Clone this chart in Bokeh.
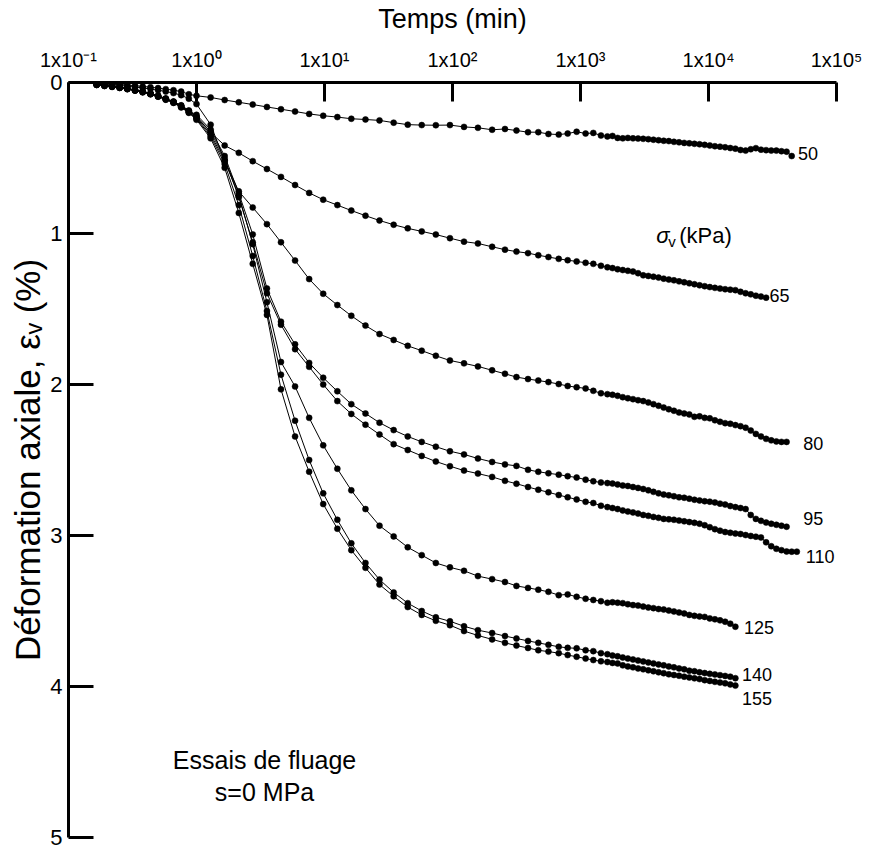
from bokeh.plotting import figure
from bokeh.models import Range1d, FixedTicker, CustomJSTickFormatter, Label, ColumnDataSource
from bokeh.embed import file_html
from bokeh.resources import INLINE
from bokeh.core.properties import value

# measurement times (min), shared logging schedule
T = [0.166, 0.191, 0.219, 0.251, 0.288, 0.331, 0.380, 0.437, 0.501, 0.575, 0.661, 0.759, 0.871,
     1.0, 1.29, 1.66, 2.14, 2.75, 3.55, 4.57, 5.89, 7.59, 9.77, 12.6, 16.2, 20.9, 26.9, 34.7,
     44.7, 57.5, 74.1, 95.5, 123, 158, 204, 257, 316, 389, 468, 562, 676, 794, 933, 1096, 1259, 1445,
     1622, 1778, 1950, 2138, 2344, 2570, 2818, 3090, 3388, 3715, 4074, 4467, 4898, 5370, 5888,
     6457, 7079, 7762, 8511, 9333, 10233, 11220, 12303, 13490, 14791, 16218, 17783, 19498, 21380,
     23442, 25704, 28184, 30903, 33884, 37154, 40738, 44668, 48978]

# axial strain (%) for each vertical stress (kPa)
eps_50 = [0.004, 0.006, 0.010, 0.013, 0.017, 0.021, 0.026, 0.031, 0.037, 0.044, 0.051, 0.060, 0.078,
          0.088, 0.099, 0.116, 0.131, 0.146, 0.162, 0.177, 0.192, 0.208, 0.220, 0.229, 0.240, 0.245,
          0.251, 0.266, 0.279, 0.282, 0.283, 0.282, 0.294, 0.300, 0.313, 0.308, 0.318, 0.329, 0.329,
          0.341, 0.345, 0.338, 0.326, 0.338, 0.334, 0.351,
          0.357, 0.354, 0.367, 0.370, 0.367, 0.370, 0.371, 0.373, 0.375, 0.379, 0.382, 0.386, 0.388,
          0.393, 0.396, 0.400, 0.403, 0.406, 0.409, 0.413, 0.417, 0.422, 0.425, 0.429, 0.434, 0.438,
          0.447, 0.451, 0.442, 0.435, 0.445, 0.448, 0.451, 0.451, 0.455, 0.458, 0.487]
eps_65 = [0.012, 0.017, 0.023, 0.031, 0.039, 0.049, 0.060, 0.073, 0.088, 0.107, 0.127, 0.151, 0.185,
          0.227, 0.331, 0.417, 0.466, 0.521, 0.573, 0.625, 0.679, 0.731, 0.776, 0.812, 0.848, 0.882,
          0.914, 0.942, 0.966, 0.986, 1.007, 1.031, 1.054, 1.066, 1.088, 1.107, 1.120, 1.130, 1.144,
          1.156, 1.168, 1.177, 1.185, 1.194, 1.201, 1.214,
          1.224, 1.229, 1.237, 1.242, 1.247, 1.252, 1.263, 1.277, 1.281, 1.286, 1.292, 1.299, 1.305,
          1.310, 1.317, 1.323, 1.330, 1.336, 1.343, 1.349, 1.355, 1.360, 1.365, 1.369, 1.372, 1.375,
          1.386, 1.396, 1.403, 1.412, 1.418, 1.425]
eps_80 = [0.006, 0.010, 0.014, 0.019, 0.025, 0.030, 0.036, 0.043, 0.051, 0.060, 0.070, 0.084, 0.107,
          0.143, 0.279, 0.519, 0.721, 0.828, 0.938, 1.058, 1.179, 1.302, 1.399, 1.474, 1.545, 1.610,
          1.666, 1.705, 1.744, 1.776, 1.810, 1.841, 1.860, 1.880, 1.906, 1.929, 1.951, 1.964, 1.974,
          1.984, 1.997, 2.010, 2.018, 2.026, 2.042, 2.058,
          2.064, 2.068, 2.075, 2.084, 2.091, 2.097, 2.104, 2.110, 2.119, 2.130, 2.141, 2.153, 2.164,
          2.174, 2.185, 2.192, 2.198, 2.214, 2.211, 2.221, 2.224, 2.237, 2.247, 2.256, 2.260, 2.269,
          2.276, 2.286, 2.305, 2.327, 2.344, 2.360, 2.370, 2.377, 2.380, 2.380]
eps_95 = [0.013, 0.019, 0.025, 0.032, 0.040, 0.050, 0.060, 0.072, 0.088, 0.106, 0.126, 0.154, 0.188,
          0.214, 0.312, 0.487, 0.734, 1.006, 1.364, 1.584, 1.734, 1.857, 1.955, 2.045, 2.130, 2.192,
          2.253, 2.302, 2.344, 2.380, 2.412, 2.442, 2.463, 2.490, 2.513, 2.529, 2.539, 2.565, 2.578,
          2.588, 2.597, 2.607, 2.616, 2.630, 2.641, 2.649,
          2.653, 2.656, 2.662, 2.669, 2.672, 2.679, 2.685, 2.692, 2.701, 2.711, 2.721, 2.729, 2.734,
          2.740, 2.747, 2.750, 2.756, 2.763, 2.768, 2.773, 2.776, 2.781, 2.789, 2.795, 2.805, 2.812,
          2.818, 2.825, 2.864, 2.890, 2.903, 2.914, 2.922, 2.929, 2.935, 2.942]
eps_110 = [0.014, 0.020, 0.026, 0.033, 0.041, 0.051, 0.061, 0.074, 0.090, 0.108, 0.129, 0.157, 0.192,
           0.227, 0.325, 0.506, 0.760, 1.058, 1.396, 1.604, 1.766, 1.883, 2.000, 2.110, 2.195, 2.266,
           2.331, 2.395, 2.434, 2.473, 2.510, 2.541, 2.570, 2.590, 2.612, 2.638, 2.657, 2.679, 2.697,
           2.714, 2.732, 2.747, 2.761, 2.777, 2.785, 2.803,
           2.812, 2.818, 2.825, 2.834, 2.841, 2.847, 2.855, 2.864, 2.870, 2.877, 2.883, 2.890, 2.893,
           2.896, 2.901, 2.906, 2.911, 2.916, 2.922, 2.932, 2.945, 2.958, 2.968, 2.977, 2.982, 2.987,
           2.990, 2.997, 3.003, 3.008, 3.013, 3.045, 3.071, 3.088, 3.097, 3.106, 3.107, 3.107]
eps_125 = [0.015, 0.021, 0.027, 0.034, 0.042, 0.052, 0.062, 0.075, 0.091, 0.110, 0.130, 0.159, 0.195,
           0.234, 0.344, 0.519, 0.747, 1.071, 1.455, 1.851, 2.013, 2.221, 2.403, 2.558, 2.701, 2.825,
           2.935, 3.006, 3.078, 3.130, 3.182, 3.211, 3.234, 3.269, 3.289, 3.308, 3.334, 3.347, 3.359,
           3.373, 3.395, 3.390, 3.406, 3.419, 3.427, 3.435,
           3.445, 3.442, 3.445, 3.448, 3.455, 3.461, 3.464, 3.471, 3.477, 3.481, 3.487, 3.490, 3.497,
           3.503, 3.510, 3.516, 3.526, 3.532, 3.536, 3.539, 3.549, 3.555, 3.562, 3.571, 3.584, 3.604]
eps_140 = [0.016, 0.022, 0.028, 0.035, 0.043, 0.053, 0.064, 0.077, 0.093, 0.112, 0.133, 0.162, 0.198,
           0.240, 0.357, 0.539, 0.812, 1.149, 1.513, 1.935, 2.240, 2.500, 2.721, 2.896, 3.052, 3.182,
           3.292, 3.377, 3.448, 3.500, 3.542, 3.568, 3.601, 3.627, 3.646, 3.666, 3.682, 3.698, 3.711,
           3.724, 3.737, 3.744, 3.747, 3.760, 3.766, 3.779,
           3.786, 3.795, 3.800, 3.808, 3.815, 3.821, 3.828, 3.834, 3.841, 3.847, 3.854, 3.860, 3.867,
           3.873, 3.880, 3.886, 3.895, 3.899, 3.906, 3.911, 3.916, 3.920, 3.925, 3.930, 3.935, 3.945]
eps_155 = [0.016, 0.023, 0.029, 0.036, 0.044, 0.054, 0.065, 0.078, 0.094, 0.114, 0.135, 0.165, 0.201,
           0.247, 0.370, 0.565, 0.864, 1.201, 1.539, 2.032, 2.344, 2.578, 2.792, 2.955, 3.097, 3.214,
           3.325, 3.403, 3.474, 3.526, 3.565, 3.594, 3.633, 3.662, 3.688, 3.711, 3.729, 3.745, 3.760,
           3.769, 3.779, 3.792, 3.803, 3.815, 3.825, 3.833,
           3.838, 3.844, 3.847, 3.860, 3.867, 3.873, 3.880, 3.886, 3.893, 3.899, 3.906, 3.912, 3.919,
           3.924, 3.929, 3.935, 3.940, 3.946, 3.951, 3.958, 3.963, 3.969, 3.974, 3.979, 3.986, 3.994]

series = [eps_50, eps_65, eps_80, eps_95, eps_110, eps_125, eps_140, eps_155]
stress_labels = ["50", "65", "80", "95", "110", "125", "140", "155"]

x_ticks = [0.1, 1, 10, 100, 1000, 10000, 100000]
y_ticks = [0, 1, 2, 3, 4, 5]

# label anchor points (time, strain) for the stress annotations
label_pos = {"50": (50000, 0.47), "65": (30000, 1.41), "80": (55000, 2.39), "95": (55000, 2.89),
             "110": (57500, 3.14), "125": (18900, 3.61), "140": (18300, 3.92), "155": (18300, 4.08)}

FONT = "Liberation Sans"

p = figure(width=862, height=849, x_axis_type="log", x_axis_location="above",
           x_range=Range1d(0.1, 100000), y_range=Range1d(5, 0),
           output_backend="svg", toolbar_location=None,
           min_border_left=68, min_border_top=77, min_border_right=26, min_border_bottom=12)
p.outline_line_color = None
p.xgrid.visible = False
p.ygrid.visible = False
p.background_fill_color = "white"
p.border_fill_color = "white"

xa = p.xaxis[0]
xa.ticker = FixedTicker(ticks=x_ticks, minor_ticks=[])
xa.formatter = CustomJSTickFormatter(code="""
const e = Math.round(Math.log10(tick));
const sup = {'-':'\u207b','0':'\u2070','1':'\u00b9','2':'\u00b2','3':'\u00b3','4':'\u2074','5':'\u2075'};
return '1x10' + String(e).split('').map(c => sup[c]).join('');
""")
xa.axis_label = "Temps (min)"

ya = p.yaxis[0]
ya.ticker = FixedTicker(ticks=y_ticks, minor_ticks=[])
ya.axis_label = "Déformation axiale, \u03b5\u1d65 (%)"

for ax in (xa, ya):
    ax.axis_line_width = 3
    ax.axis_line_color = "black"
    ax.major_tick_line_width = 3
    ax.major_tick_line_color = "black"
    ax.major_tick_out = 0
    ax.minor_tick_line_color = None
    ax.major_label_text_font = FONT
    ax.major_label_text_color = "black"
    ax.axis_label_text_font = FONT
    ax.axis_label_text_font_style = "normal"
    ax.axis_label_text_color = "black"

xa.major_tick_in = 19
xa.major_label_standoff = 12
xa.major_label_text_font_size = "20px"
xa.axis_label_text_font_size = "27px"
xa.axis_label_standoff = 12
ya.major_tick_in = 25
ya.major_label_standoff = 6
ya.major_label_text_font_size = "22px"
ya.axis_label_text_font_size = "35px"
ya.axis_label_standoff = 0

for eps in series:
    t = T[:len(eps)]
    p.line(t, eps, line_color="black", line_width=1)
    p.scatter(t, eps, size=6, fill_color="black", line_color="black", line_width=0.5)

src = ColumnDataSource(dict(
    x=[label_pos[s][0] for s in stress_labels],
    y=[label_pos[s][1] for s in stress_labels],
    text=stress_labels))
p.text(x="x", y="y", text="text", source=src, text_font=value(FONT), text_font_size="18px",
       text_align="left", text_baseline="middle", text_color="black")

p.add_layout(Label(x=3900, y=1.01, text="\u03c3", text_font=FONT, text_font_size="22px",
                   text_font_style="italic", text_baseline="middle", text_align="left",
                   text_color="black"))
p.add_layout(Label(x=3900, y=1.01, x_offset=12, y_offset=-6, text="v", text_font=FONT,
                   text_font_size="15px", text_baseline="middle", text_align="left",
                   text_color="black"))
p.add_layout(Label(x=3900, y=1.01, x_offset=23, text="(kPa)", text_font=FONT,
                   text_font_size="22px", text_baseline="middle", text_align="left",
                   text_color="black"))

p.add_layout(Label(x=3.4, y=4.49, text="Essais de fluage", text_font=FONT, text_font_size="25px",
                   text_baseline="middle", text_align="center", text_color="black"))
p.add_layout(Label(x=3.4, y=4.70, text="s=0 MPa", text_font=FONT, text_font_size="25px",
                   text_baseline="middle", text_align="center", text_color="black"))

open("out.html", "w").write(file_html(p, INLINE))
